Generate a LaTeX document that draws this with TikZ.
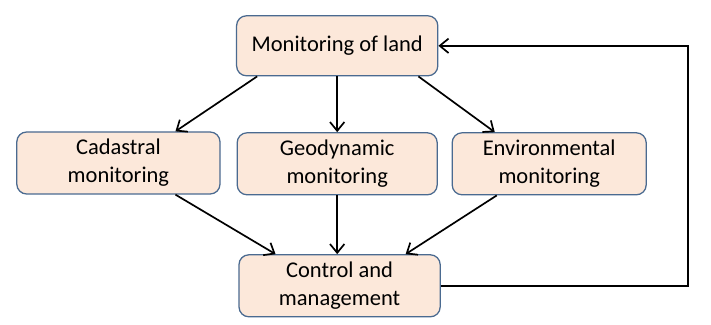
\documentclass[tikz,border=0pt]{standalone}
\usepackage{fontspec}
\usepackage{xcolor}
\usepackage{tikz}
\usetikzlibrary{arrows.meta, positioning, calc}
\setmainfont{Carlito}
\definecolor{boxfill}{HTML}{FCE8DA}
\definecolor{boxline}{HTML}{4A6A90}

\begin{document}
\begin{tikzpicture}[>={Straight Barb[length=2.2mm, width=3.6mm]},
  stagebox/.style={draw=boxline, line width=0.9pt, fill=boxfill, rounded corners=7pt,
    align=center, font=\fontsize{16}{20}\selectfont, inner sep=0pt},
  flow/.style={->, line width=1.2pt}]
  \useasboundingbox (0,0) rectangle (17.775,8.125);
  \node[stagebox, minimum width=5.03cm, minimum height=1.5cm] (land) at (8.43, 6.98) {Monitoring of land};
  \node[stagebox, minimum width=5.08cm, minimum height=1.55cm] (cad) at (2.96, 4.05) {Cadastral\\monitoring};
  \node[stagebox, minimum width=5.0cm, minimum height=1.55cm] (geo) at (8.43, 4.03) {Geodynamic\\monitoring};
  \node[stagebox, minimum width=4.85cm, minimum height=1.55cm] (env) at (13.73, 4.03) {Environmental\\monitoring};
  \node[stagebox, minimum width=5.03cm, minimum height=1.55cm] (ctl) at (8.49, 0.98) {Control and\\management};
  \coordinate (fb) at (17.2, 4);
  \draw[flow] ([xshift=0.53cm]land.south west) -- ([xshift=-1.13cm]cad.north east);
  \draw[flow] (land.south) -- (land.south |- geo.north);
  \draw[flow] ([xshift=-0.5cm]land.south east) -- ([xshift=1.08cm]env.north west);
  \draw[flow] ([xshift=-1.13cm]cad.south east) -- ([xshift=0.93cm]ctl.north west);
  \draw[flow] (geo.south) -- (geo.south |- ctl.north);
  \draw[flow] ([xshift=1.13cm]env.south west) -- ([xshift=-0.88cm]ctl.north east);
  \draw[flow] (ctl.east) -- (ctl.east -| fb) -- (fb |- land.east) -- (land.east);
\end{tikzpicture}
\end{document}
